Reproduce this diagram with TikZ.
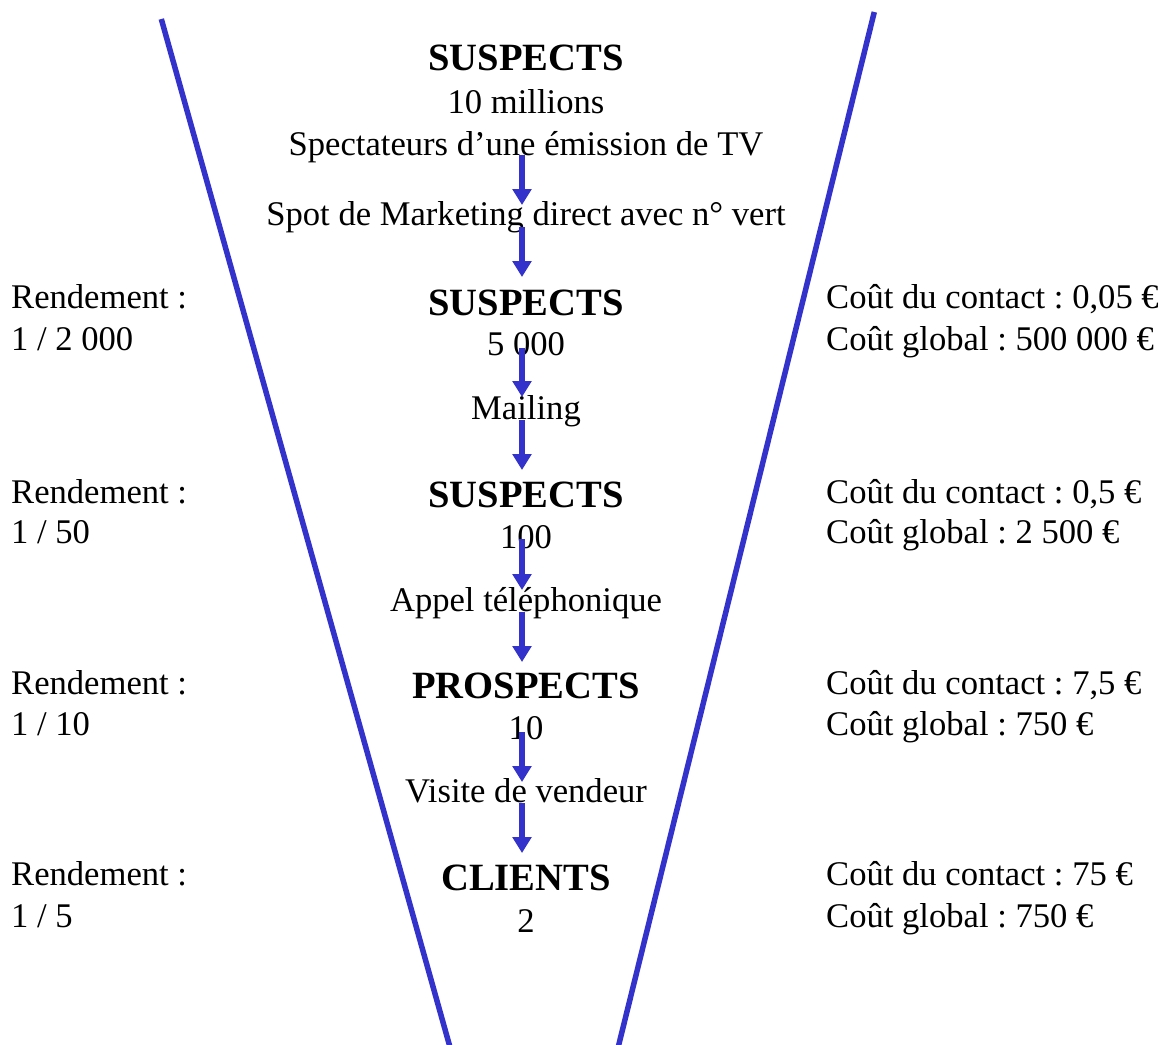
\documentclass[tikz,border=0pt]{standalone}
\usepackage{fontspec}
\setmainfont{Liberation Serif}
\usetikzlibrary{arrows.meta}
\definecolor{funnelblue}{HTML}{3333CC}
\frenchspacing
\begin{document}
\begin{tikzpicture}[x=1pt,y=-1pt,
  txt/.style={inner sep=0pt,anchor=base,font=\fontsize{34.6}{41}\selectfont},
  hdr/.style={inner sep=0pt,anchor=base,font=\fontsize{38.6}{44}\selectfont\bfseries},
  lft/.style={inner sep=0pt,anchor=base west,font=\fontsize{34.6}{41}\selectfont},
  edge/.style={draw=funnelblue,line width=5.5pt},
  flow/.style={draw=funnelblue,line width=6.5pt,-{Triangle[width=18.5pt,length=16pt]}}]
\useasboundingbox (0,0) rectangle (1172,1044);
\clip (0,0) rectangle (1172,1044);
\fill[white] (0,0) rectangle (1172,1044);
% funnel sides
\coordinate (lt) at (161.3,19);
\coordinate (lb) at (453.6,1060);
\coordinate (rt) at (874.3,12);
\coordinate (rb) at (615,1060);
\draw[edge] (lt) -- (lb);
\draw[edge] (rt) -- (rb);
% centre column
\node[hdr] (h1) at (526,70) {SUSPECTS};
\node[txt] (n1) at (526,113) {10 millions};
\node[txt] (d1) at (526,155) {Spectateurs d’une émission de TV};
\node[txt] (m1) at (526,225) {Spot de Marketing direct avec n° vert};
\node[hdr] (h2) at (526,315) {SUSPECTS};
\node[txt] (n2) at (526,355) {5 000};
\node[txt] (m2) at (526,419) {Mailing};
\node[hdr] (h3) at (526,507) {SUSPECTS};
\node[txt] (n3) at (526,548) {100};
\node[txt] (m3) at (526,611) {Appel téléphonique};
\node[hdr] (h4) at (526,698) {PROSPECTS};
\node[txt] (n4) at (526,739) {10};
\node[txt] (m4) at (526,802) {Visite de vendeur};
\node[hdr] (h5) at (526,890) {CLIENTS};
\node[txt] (n5) at (526,932) {2};
% left column
\node[lft] (r1a) at (11,308) {Rendement :};
\node[lft] (r1b) at (11,350) {1 / 2 000};
\node[lft] (r2a) at (11,503) {Rendement :};
\node[lft] (r2b) at (11,543) {1 / 50};
\node[lft] (r3a) at (11,694) {Rendement :};
\node[lft] (r3b) at (11,735) {1 / 10};
\node[lft] (r4a) at (11,885) {Rendement :};
\node[lft] (r4b) at (11,927) {1 / 5};
% right column
\node[lft] (c1a) at (826,308) {Coût du contact : 0,05 €};
\node[lft] (c1b) at (826,350) {Coût global : 500 000 €};
\node[lft] (c2a) at (826,503) {Coût du contact : 0,5 €};
\node[lft] (c2b) at (826,543) {Coût global : 2 500 €};
\node[lft] (c3a) at (826,694) {Coût du contact : 7,5 €};
\node[lft] (c3b) at (826,735) {Coût global : 750 €};
\node[lft] (c4a) at (826,885) {Coût du contact : 75 €};
\node[lft] (c4b) at (826,927) {Coût global : 750 €};
% arrows
\coordinate (a1s) at (522,155); \coordinate (a1e) at (522,205);
\coordinate (a2s) at (522,227); \coordinate (a2e) at (522,277);
\coordinate (a3s) at (522,348); \coordinate (a3e) at (522,397);
\coordinate (a4s) at (522,420); \coordinate (a4e) at (522,470);
\coordinate (a5s) at (522,539); \coordinate (a5e) at (522,590);
\coordinate (a6s) at (522,612); \coordinate (a6e) at (522,662);
\coordinate (a7s) at (522,732); \coordinate (a7e) at (522,782);
\coordinate (a8s) at (522,803); \coordinate (a8e) at (522,853);
\foreach \i in {1,...,8}{\draw[flow] (a\i s) -- (a\i e);}
\end{tikzpicture}
\end{document}
